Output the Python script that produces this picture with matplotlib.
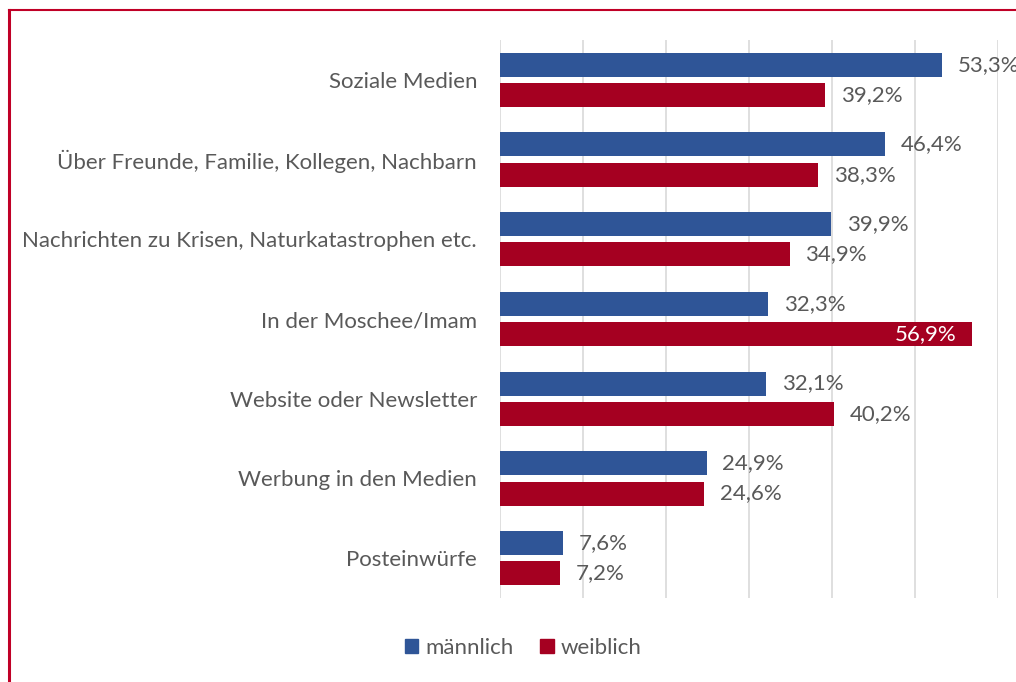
import matplotlib
matplotlib.use("Agg")
import matplotlib.pyplot as plt
from matplotlib.patches import Patch
import numpy as np

categories = ["Soziale Medien", "Über Freunde, Familie, Kollegen, Nachbarn",
              "Nachrichten zu Krisen, Naturkatastrophen etc.", "In der Moschee/Imam",
              "Website oder Newsletter", "Werbung in den Medien", "Posteinwürfe"]
maennlich = [53.3, 46.4, 39.9, 32.3, 32.1, 24.9, 7.6]
weiblich = [39.2, 38.3, 34.9, 56.9, 40.2, 24.6, 7.2]
series_names = ["männlich", "weiblich"]

blue = "#2F5597"
red = "#A50021"
txt = "#595959"
fs = 16

plt.rcParams['font.family'] = ['Lato', 'DejaVu Sans']

fig = plt.figure(figsize=(10.16, 6.82), dpi=100)
ax = fig.add_axes([500/1016, 1-598/682, 498/1016, 558/682])

y = np.arange(len(categories))
h = 0.30
off = 0.19
ax.barh(y - off, maennlich, height=h, color=blue, zorder=3, label=series_names[0])
ax.barh(y + off, weiblich, height=h, color=red, zorder=3, label=series_names[1])

for i, v in enumerate(maennlich):
    ax.text(v + 1.9, i - off, f"{v:.1f}%".replace(".", ","), va="center", ha="left",
            fontsize=fs, color=txt, zorder=4)
for i, v in enumerate(weiblich):
    s = f"{v:.1f}%".replace(".", ",")
    if v > 55:
        ax.text(v - 1.9, i + off, s, va="center", ha="right", fontsize=fs, color="white", zorder=4)
    else:
        ax.text(v + 1.9, i + off, s, va="center", ha="left", fontsize=fs, color=txt, zorder=4)

ax.set_xlim(0, 60)
ax.set_ylim(len(categories) - 0.5, -0.5)
ax.set_xticks(np.arange(0, 61, 10))
ax.set_xticklabels([])
ax.tick_params(axis="x", length=0)
ax.tick_params(axis="y", length=0, pad=16.5)
ax.set_yticks(y)
ax.set_yticklabels(categories, fontsize=fs, color=txt)
ax.grid(axis="x", color="#D9D9D9", linewidth=1.2, zorder=0)
for s in ax.spines.values():
    s.set_visible(False)

handles = [Patch(color=blue, label=series_names[0]), Patch(color=red, label=series_names[1])]
leg = fig.legend(handles=handles, loc="center", bbox_to_anchor=(523/1016, 1-648/682), ncol=2,
                 frameon=False, fontsize=fs, handlelength=0.62, handleheight=0.62,
                 handletextpad=0.3, columnspacing=1.2)
for t in leg.get_texts():
    t.set_color(txt)

# red border (left and top)
fig.add_artist(plt.Line2D([9/1016, 9/1016], [0, 1-10/682], color="#C00027", linewidth=2.2,
                          transform=fig.transFigure))
fig.add_artist(plt.Line2D([9/1016, 1], [1-10/682, 1-10/682], color="#C00027", linewidth=1.5,
                          transform=fig.transFigure))

fig.savefig("out.png", dpi=100)
